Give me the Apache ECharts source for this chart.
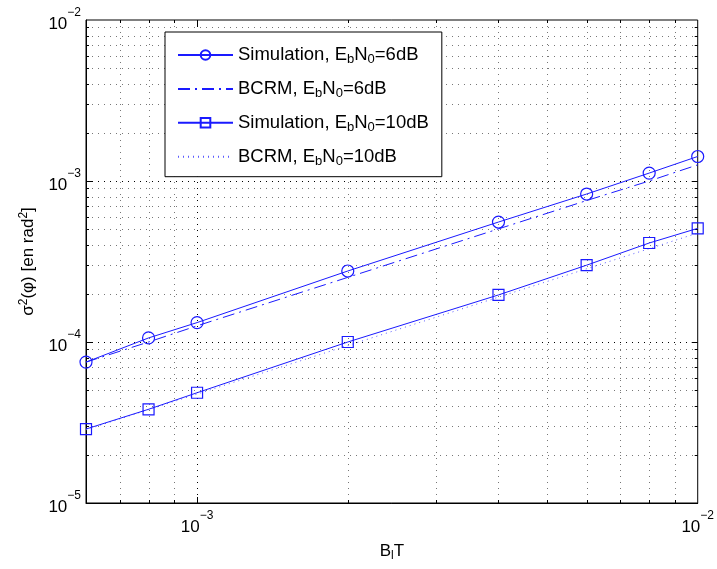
<!DOCTYPE html>
<html><head><meta charset="utf-8">
<script src="https://cdn.jsdelivr.net/npm/echarts@6/dist/echarts.min.js"></script>
<style>html,body{margin:0;padding:0;background:#fff}#c{width:717px;height:569px}</style>
</head><body><div id="c"></div>
<script>
const xVals  = [6e-4, 8e-4, 1e-3, 2e-3, 4e-3, 6e-3, 8e-3, 1e-2];
const sim6   = [7.5e-5, 1.06e-4, 1.32e-4, 2.76e-4, 5.56e-4, 8.3e-4, 1.12e-3, 1.42e-3];
const bcrm6  = [7.5e-5, 1.0e-4, 1.26e-4, 2.52e-4, 5.04e-4, 7.56e-4, 1.0e-3, 1.26e-3];
const sim10  = [2.88e-5, 3.82e-5, 4.84e-5, 1.0e-4, 1.96e-4, 3.0e-4, 4.12e-4, 5.08e-4];
const bcrm10 = [2.85e-5, 3.8e-5, 4.75e-5, 9.5e-5, 1.9e-4, 2.85e-4, 3.8e-4, 4.75e-4];
const xMajor = [1e-3, 1e-2];
const xMinor = [7e-4, 8e-4, 9e-4, 2e-3, 3e-3, 4e-3, 5e-3, 6e-3, 7e-3, 8e-3, 9e-3];
const yMajor = [1e-5, 1e-4, 1e-3, 1e-2];
const yMinor = [2e-5,3e-5,4e-5,5e-5,6e-5,7e-5,8e-5,9e-5,2e-4,3e-4,4e-4,5e-4,6e-4,7e-4,8e-4,9e-4,2e-3,3e-3,4e-3,5e-3,6e-3,7e-3,8e-3,9e-3];
const names = ['sim6','bcrm6','sim10','bcrm10'];
const legendText = {
  sim6:  '{t|Simulation, E}{s|b}{t|N}{s|0}{t|=6dB}',
  bcrm6: '{t|BCRM, E}{s|b}{t|N}{s|0}{t|=6dB}',
  sim10: '{t|Simulation, E}{s|b}{t|N}{s|0}{t|=10dB}',
  bcrm10:'{t|BCRM, E}{s|b}{t|N}{s|0}{t|=10dB}'
};
const FONT = 'Liberation Sans, Arial, sans-serif';
const BLUE = '#1a1aff';
const pair = (xs, ys) => xs.map((x, i) => [x, ys[i]]);

function powLabel(v) {
  const e = Math.round(Math.log10(v));
  if (Math.abs(v / Math.pow(10, e) - 1) > 1e-6) return '';
  return '{b|10}{s|' + (e < 0 ? '\u2212' : '') + Math.abs(e) + '}';
}
const supRich = {
  b: {fontSize: 17, fontFamily: FONT, color: '#000', lineHeight: 26, verticalAlign: 'bottom'},
  s: {fontSize: 12, fontFamily: FONT, color: '#000', lineHeight: 13, verticalAlign: 'top'}
};

function gridRender(vertical) {
  return function (params, api) {
    const cs = params.coordSys;
    const major = api.value(2) === 1;
    const p = api.coord([api.value(0), api.value(1)]);
    const ch = [];
    const L = major ? 6 : 3;
    const dash = {stroke: major ? '#000' : '#777', lineWidth: 1, lineDash: [1, 5]};
    const tick = {stroke: '#000', lineWidth: 1};
    if (vertical) {
      const x = Math.round(p[0]) + 0.5;
      if (x > cs.x + 1 && x < cs.x + cs.width - 1) {
        ch.push({type: 'line', shape: {x1: x, y1: cs.y, x2: x, y2: cs.y + cs.height}, style: dash});
        ch.push({type: 'line', shape: {x1: x, y1: cs.y + cs.height, x2: x, y2: cs.y + cs.height - L}, style: tick});
        ch.push({type: 'line', shape: {x1: x, y1: cs.y, x2: x, y2: cs.y + L}, style: tick});
      }
    } else {
      const y = Math.round(p[1]) + 0.5;
      if (y > cs.y + 1 && y < cs.y + cs.height - 1) {
        ch.push({type: 'line', shape: {x1: cs.x, y1: y, x2: cs.x + cs.width, y2: y}, style: dash});
        ch.push({type: 'line', shape: {x1: cs.x, y1: y, x2: cs.x + L, y2: y}, style: tick});
        ch.push({type: 'line', shape: {x1: cs.x + cs.width, y1: y, x2: cs.x + cs.width - L, y2: y}, style: tick});
      }
    }
    return {type: 'group', children: ch};
  };
}

const vData = xMajor.map(v => [v, 1e-3, 1]).concat(xMinor.map(v => [v, 1e-3, 0]));
const hData = yMajor.map(v => [1e-3, v, 1]).concat(yMinor.map(v => [1e-3, v, 0]));
const hiddenSym = {color: 'rgba(0,0,0,0)', borderColor: 'rgba(0,0,0,0)', borderWidth: 0, opacity: 0};

const chart = echarts.init(document.getElementById('c'), null, {renderer: 'canvas'});
chart.setOption({
  animation: false,
  backgroundColor: '#fff',
  grid: {left: 86, top: 20, right: 18, bottom: 66, show: true, borderColor: '#000', borderWidth: 1, backgroundColor: 'transparent'},
  xAxis: {
    type: 'log', logBase: 10, min: 6e-4, max: 1e-2,
    axisLine: {show: true, lineStyle: {color: '#000'}},
    axisTick: {show: false}, splitLine: {show: false},
    axisLabel: {formatter: powLabel, rich: supRich, margin: 7, showMinLabel: true, showMaxLabel: true},
    name: 'B{s|l}T', nameLocation: 'middle', nameGap: 38,
    nameTextStyle: {fontSize: 17, fontFamily: FONT, color: '#000',
      rich: {s: {fontSize: 12, fontFamily: FONT, color: '#000', verticalAlign: 'bottom', padding: [9, 0, 0, 0]}}}
  },
  yAxis: {
    type: 'log', logBase: 10, min: 1e-5, max: 1e-2,
    axisLine: {show: true, lineStyle: {color: '#000'}},
    axisTick: {show: false}, splitLine: {show: false},
    axisLabel: {formatter: powLabel, rich: supRich, margin: 5},
    name: '\u03c3{p|2}(\u03c6) [en rad{p|2}]', nameLocation: 'middle', nameGap: 48, nameRotate: 90,
    nameTextStyle: {fontSize: 17, fontFamily: FONT, color: '#000',
      rich: {p: {fontSize: 12, fontFamily: FONT, color: '#000', verticalAlign: 'top', padding: [0, 0, 8, 0]}}}
  },
  legend: {
    data: [
      {name: 'sim6'},
      {name: 'bcrm6', itemStyle: hiddenSym},
      {name: 'sim10'},
      {name: 'bcrm10', itemStyle: hiddenSym}
    ],
    orient: 'vertical', left: 165, top: 32,
    padding: [11, 13, 9, 12], itemGap: 10.9, itemWidth: 55, itemHeight: 12,
    backgroundColor: '#fff', borderColor: '#000', borderWidth: 1,
    formatter: n => legendText[n],
    textStyle: {color: '#000', fontFamily: FONT,
      rich: {
        t: {fontSize: 18.5, fontFamily: FONT, color: '#000', lineHeight: 22, verticalAlign: 'middle'},
        s: {fontSize: 13, fontFamily: FONT, color: '#000', lineHeight: 22, verticalAlign: 'bottom', padding: [10, 0, 0, 0]}
      }}
  },
  series: [
    {type: 'custom', silent: true, z: 1, renderItem: gridRender(true), data: vData, clip: false},
    {type: 'custom', silent: true, z: 1, renderItem: gridRender(false), data: hData, clip: false},
    {name: 'sim6', type: 'line', z: 5, data: pair(xVals, sim6), symbol: 'circle', symbolSize: 12,
      lineStyle: {color: BLUE, width: 1}, itemStyle: {color: 'rgba(0,0,0,0)', borderColor: BLUE, borderWidth: 1.2}},
    {name: 'bcrm6', type: 'line', z: 4, data: pair(xVals, bcrm6), symbol: 'none', showSymbol: false,
      lineStyle: {color: BLUE, width: 1, type: [12, 5, 2, 5]}, itemStyle: {color: BLUE}},
    {name: 'sim10', type: 'line', z: 5, data: pair(xVals, sim10), symbol: 'rect', symbolSize: 11,
      lineStyle: {color: BLUE, width: 1}, itemStyle: {color: 'rgba(0,0,0,0)', borderColor: BLUE, borderWidth: 1.2}},
    {name: 'bcrm10', type: 'line', z: 4, data: pair(xVals, bcrm10), symbol: 'none', showSymbol: false,
      lineStyle: {color: '#5a5aff', width: 1, type: [1, 4]}, itemStyle: {color: BLUE}}
  ]
});
</script></body></html>
